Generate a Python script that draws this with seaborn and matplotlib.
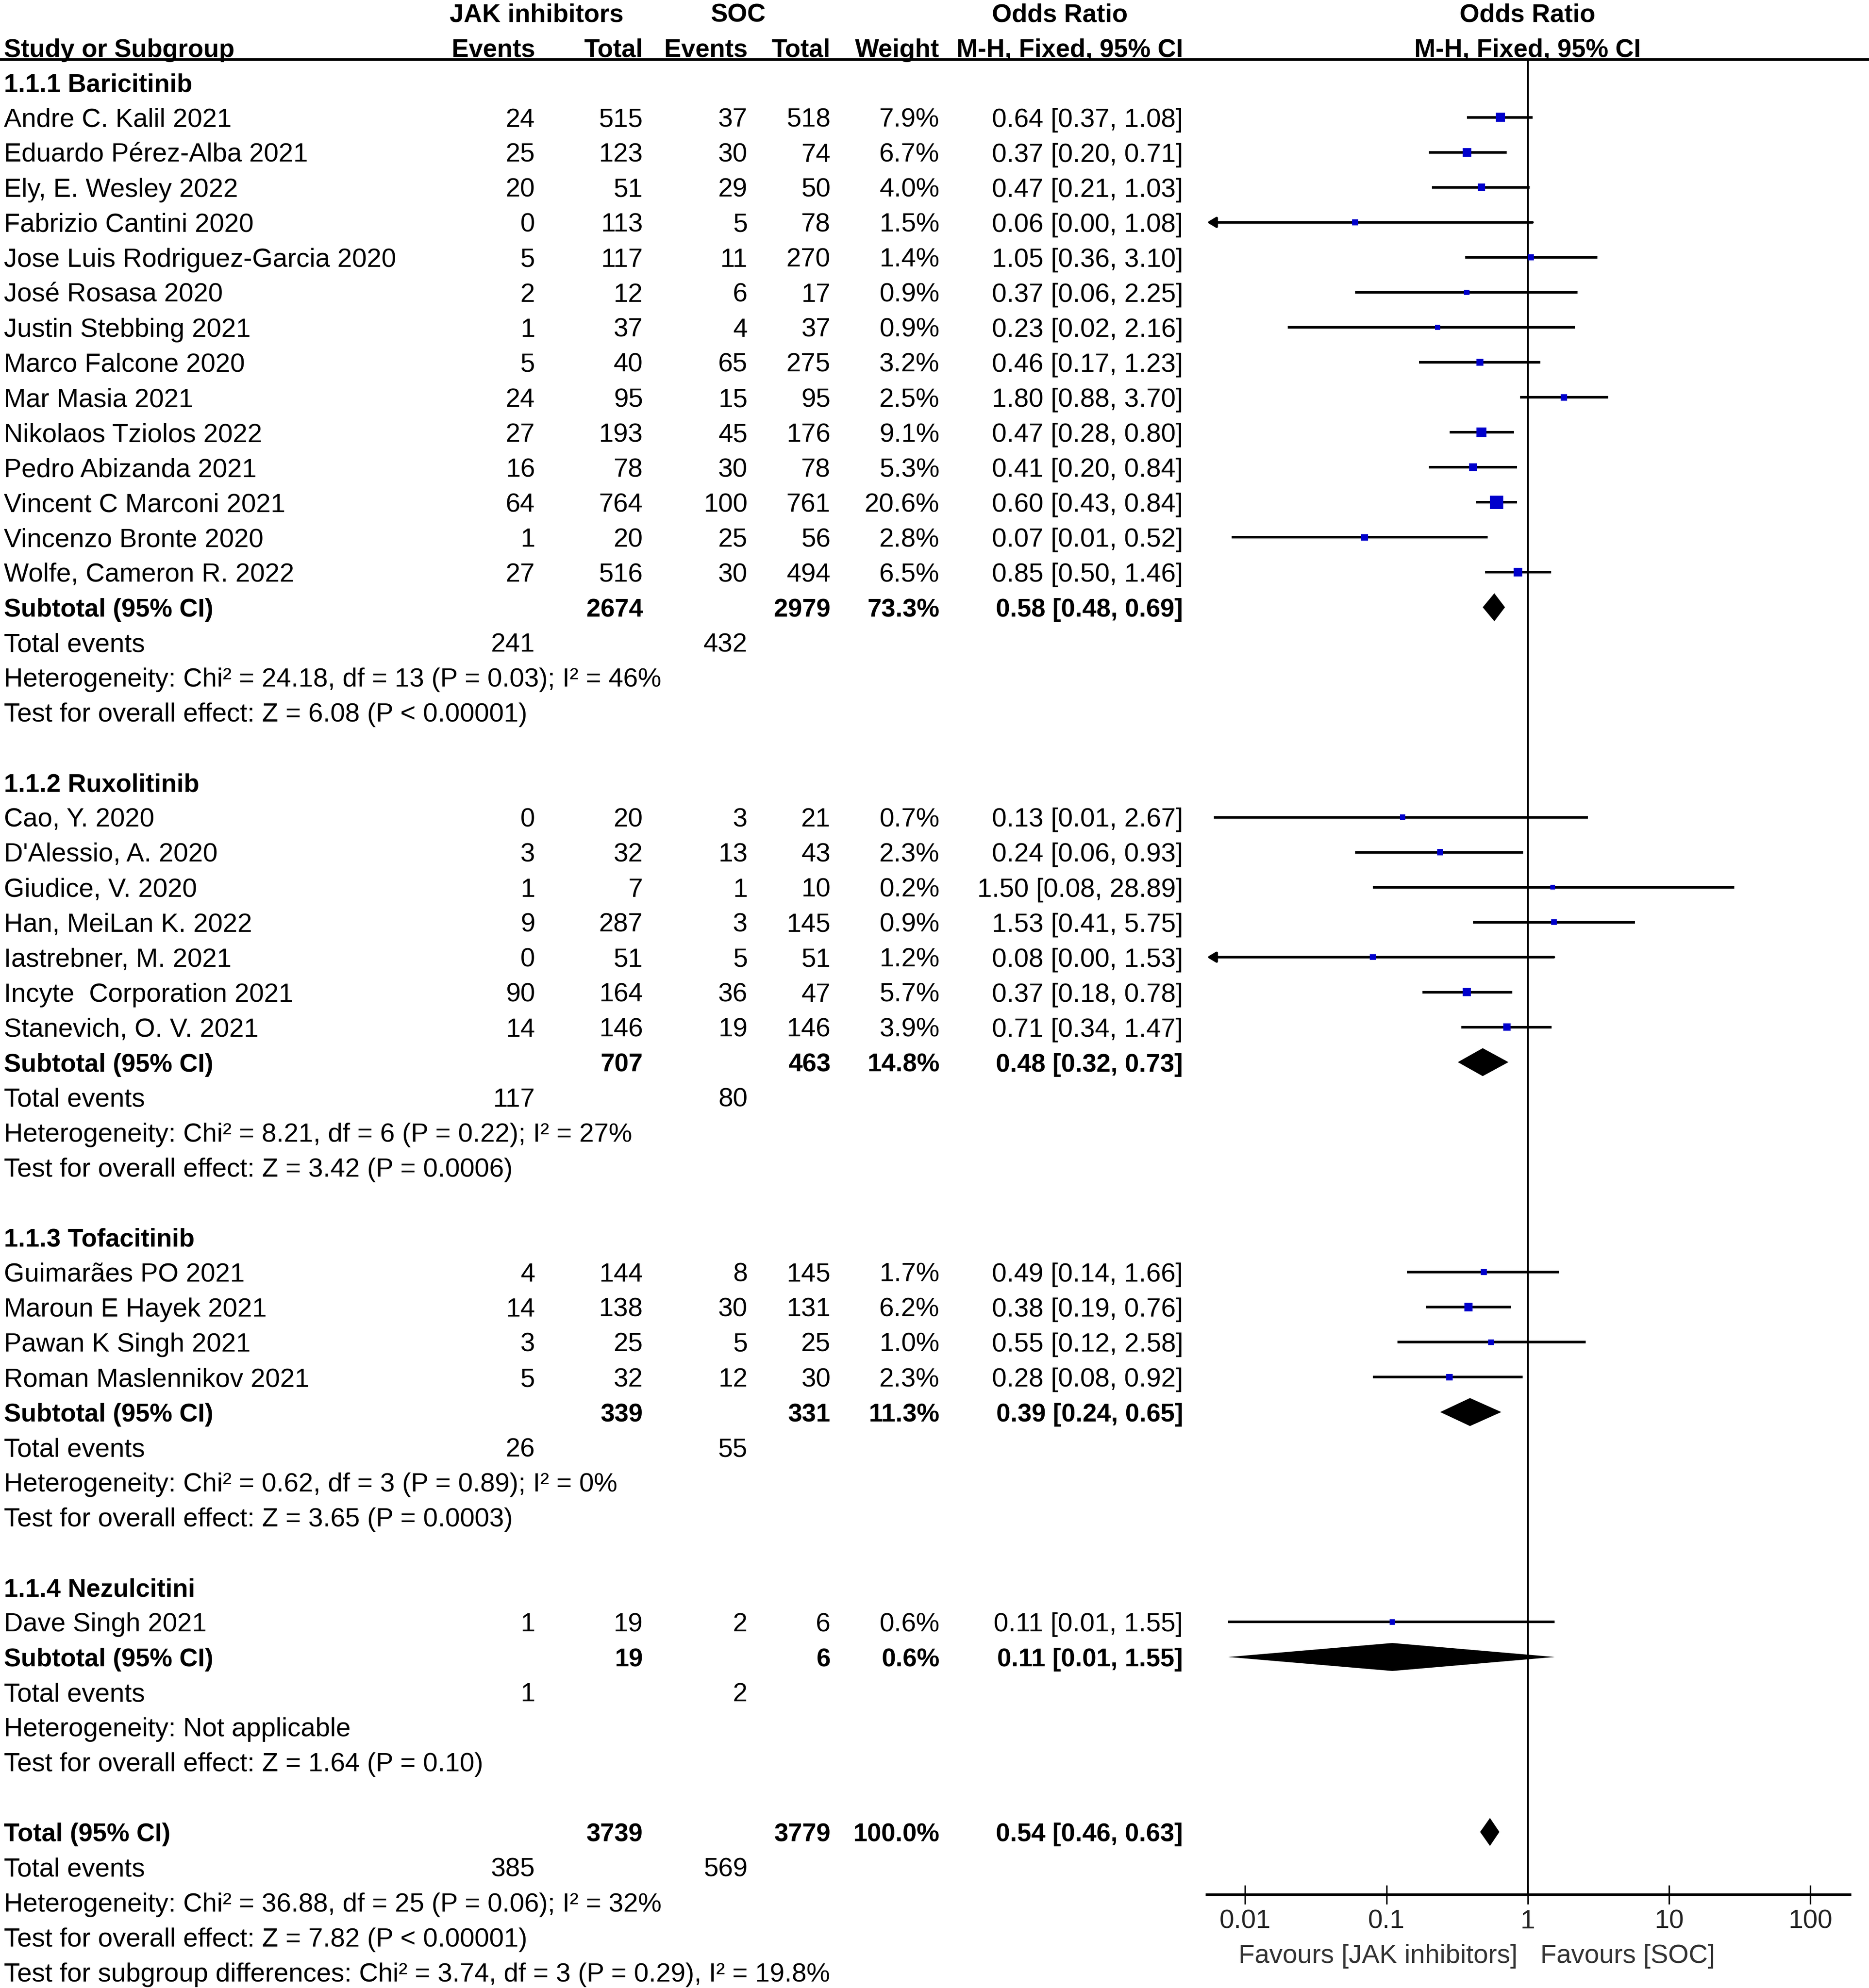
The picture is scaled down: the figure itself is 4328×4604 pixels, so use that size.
import numpy as np
import pandas as pd
import matplotlib
matplotlib.use("Agg")
import matplotlib.pyplot as plt
import seaborn as sns

# ---- data ----
group_names = ["1.1.1 Baricitinib", "1.1.2 Ruxolitinib", "1.1.3 Tofacitinib", "1.1.4 Nezulcitini"]

study_names = [
    "Andre C. Kalil 2021", "Eduardo Pérez-Alba 2021", "Ely, E. Wesley 2022",
    "Fabrizio Cantini 2020", "Jose Luis Rodriguez-Garcia 2020", "José Rosasa 2020",
    "Justin Stebbing 2021", "Marco Falcone 2020", "Mar Masia 2021",
    "Nikolaos Tziolos 2022", "Pedro Abizanda 2021", "Vincent C Marconi 2021",
    "Vincenzo Bronte 2020", "Wolfe, Cameron R. 2022",
    "Cao, Y. 2020", "D'Alessio, A. 2020", "Giudice, V. 2020", "Han, MeiLan K. 2022",
    "Iastrebner, M. 2021", "Incyte  Corporation 2021", "Stanevich, O. V. 2021",
    "Guimarães PO 2021", "Maroun E Hayek 2021", "Pawan K Singh 2021",
    "Roman Maslennikov 2021",
    "Dave Singh 2021",
]
study_group = [0] * 14 + [1] * 7 + [2] * 4 + [3]
jak_events = [24, 25, 20, 0, 5, 2, 1, 5, 24, 27, 16, 64, 1, 27,
              0, 3, 1, 9, 0, 90, 14,
              4, 14, 3, 5,
              1]
jak_total = [515, 123, 51, 113, 117, 12, 37, 40, 95, 193, 78, 764, 20, 516,
             20, 32, 7, 287, 51, 164, 146,
             144, 138, 25, 32,
             19]
soc_events = [37, 30, 29, 5, 11, 6, 4, 65, 15, 45, 30, 100, 25, 30,
              3, 13, 1, 3, 5, 36, 19,
              8, 30, 5, 12,
              2]
soc_total = [518, 74, 50, 78, 270, 17, 37, 275, 95, 176, 78, 761, 56, 494,
             21, 43, 10, 145, 51, 47, 146,
             145, 131, 25, 30,
             6]
weight = [7.9, 6.7, 4.0, 1.5, 1.4, 0.9, 0.9, 3.2, 2.5, 9.1, 5.3, 20.6, 2.8, 6.5,
          0.7, 2.3, 0.2, 0.9, 1.2, 5.7, 3.9,
          1.7, 6.2, 1.0, 2.3,
          0.6]
or_est = [0.64, 0.37, 0.47, 0.06, 1.05, 0.37, 0.23, 0.46, 1.80, 0.47, 0.41, 0.60, 0.07, 0.85,
          0.13, 0.24, 1.50, 1.53, 0.08, 0.37, 0.71,
          0.49, 0.38, 0.55, 0.28,
          0.11]
or_lo = [0.37, 0.20, 0.21, 0.003, 0.36, 0.06, 0.02, 0.17, 0.88, 0.28, 0.20, 0.43, 0.008, 0.50,
         0.006, 0.06, 0.08, 0.41, 0.004, 0.18, 0.34,
         0.14, 0.19, 0.12, 0.08,
         0.0076]
or_hi = [1.08, 0.71, 1.03, 1.08, 3.10, 2.25, 2.16, 1.23, 3.70, 0.80, 0.84, 0.84, 0.52, 1.46,
         2.67, 0.93, 28.89, 5.75, 1.53, 0.78, 1.47,
         1.66, 0.76, 2.58, 0.92,
         1.55]

sub_jak_total = [2674, 707, 339, 19]
sub_soc_total = [2979, 463, 331, 6]
sub_weight = [73.3, 14.8, 11.3, 0.6]
sub_or = [0.58, 0.48, 0.39, 0.11]
sub_lo = [0.48, 0.32, 0.24, 0.0076]
sub_hi = [0.69, 0.73, 0.65, 1.55]
sub_jak_events = [241, 117, 26, 1]
sub_soc_events = [432, 80, 55, 2]
sub_het = ["Heterogeneity: Chi² = 24.18, df = 13 (P = 0.03); I² = 46%",
           "Heterogeneity: Chi² = 8.21, df = 6 (P = 0.22); I² = 27%",
           "Heterogeneity: Chi² = 0.62, df = 3 (P = 0.89); I² = 0%",
           "Heterogeneity: Not applicable"]
sub_test = ["Test for overall effect: Z = 6.08 (P < 0.00001)",
            "Test for overall effect: Z = 3.42 (P = 0.0006)",
            "Test for overall effect: Z = 3.65 (P = 0.0003)",
            "Test for overall effect: Z = 1.64 (P = 0.10)"]

tot_jak_total, tot_soc_total, tot_weight = 3739, 3779, 100.0
tot_or, tot_lo, tot_hi = 0.54, 0.46, 0.63
tot_jak_events, tot_soc_events = 385, 569
tot_lines = ["Heterogeneity: Chi² = 36.88, df = 25 (P = 0.06); I² = 32%",
             "Test for overall effect: Z = 7.82 (P < 0.00001)",
             "Test for subgroup differences: Chi² = 3.74, df = 3 (P = 0.29), I² = 19.8%"]

axis_ticks = [0.01, 0.1, 1, 10, 100]
axis_ticklabels = ["0.01", "0.1", "1", "10", "100"]
favours_left = "Favours [JAK inhibitors]"
favours_right = "Favours [SOC]"

# ---- layout ----
ROW_TOP, ROW_BOT = -2.355, 54.46      # rows visible at figure top / bottom
AXIS_ROW, HEAD_ROW = 51.8, -0.65      # forest x axis / header rule
FS = 44
FS_BOLD = 42.5
COL = dict(name=0.002, jak_e=0.2863, jak_t=0.344, soc_e=0.400, soc_t=0.4444,
           wt=0.5027, ci=0.633)
BLUE = "#0000cc"

sns.set_theme(style="white")
plt.rcParams['font.family'] = ['Liberation Sans', 'DejaVu Sans']

fig = plt.figure(figsize=(43.28, 46.04), dpi=100)
ax_t = fig.add_axes([0, 0, 1, 1])
ax_t.set_xlim(0, 1)
ax_t.set_ylim(ROW_BOT, ROW_TOP)
ax_t.axis("off")


def frac(r):
    return (ROW_BOT - r) / (ROW_BOT - ROW_TOP)


def put(x, row, s, ha="left", bold=False, color="black"):
    ax_t.text(x, row + 0.27, s, ha=ha, va="baseline",
              fontsize=FS_BOLD if bold else FS,
              fontweight="bold" if bold else "normal", color=color)


def ci_text(e, l, h):
    return "%.2f [%.2f, %.2f]" % (e, l, h)


# header (bold, as in RevMan)
put(0.287, -2, "JAK inhibitors", ha="center", bold=True)
put(0.3948, -2, "SOC", ha="center", bold=True)
put(0.567, -2, "Odds Ratio", ha="center", bold=True)
put(0.8172, -2, "Odds Ratio", ha="center", bold=True)
put(COL["name"], -1, "Study or Subgroup", bold=True)
put(COL["jak_e"], -1, "Events", ha="right", bold=True)
put(COL["jak_t"], -1, "Total", ha="right", bold=True)
put(COL["soc_e"], -1, "Events", ha="right", bold=True)
put(COL["soc_t"], -1, "Total", ha="right", bold=True)
put(COL["wt"], -1, "Weight", ha="right", bold=True)
put(COL["ci"], -1, "M-H, Fixed, 95% CI", ha="right", bold=True)
put(0.8172, -1, "M-H, Fixed, 95% CI", ha="center", bold=True)
ax_t.axhline(HEAD_ROW, color="black", lw=4.5)

# table body
study_rows = []
diamonds = []
row = 0
for g, gname in enumerate(group_names):
    put(COL["name"], row, gname, bold=True)
    row += 1
    for i in range(len(study_names)):
        if study_group[i] != g:
            continue
        put(COL["name"], row, study_names[i])
        put(COL["jak_e"], row, str(jak_events[i]), ha="right")
        put(COL["jak_t"], row, str(jak_total[i]), ha="right")
        put(COL["soc_e"], row, str(soc_events[i]), ha="right")
        put(COL["soc_t"], row, str(soc_total[i]), ha="right")
        put(COL["wt"], row, "%.1f%%" % weight[i], ha="right")
        put(COL["ci"], row, ci_text(or_est[i], or_lo[i], or_hi[i]), ha="right")
        study_rows.append(row)
        row += 1
    put(COL["name"], row, "Subtotal (95% CI)", bold=True)
    put(COL["jak_t"], row, str(sub_jak_total[g]), ha="right", bold=True)
    put(COL["soc_t"], row, str(sub_soc_total[g]), ha="right", bold=True)
    put(COL["wt"], row, "%.1f%%" % sub_weight[g], ha="right", bold=True)
    put(COL["ci"], row, ci_text(sub_or[g], sub_lo[g], sub_hi[g]), ha="right", bold=True)
    diamonds.append((row, sub_or[g], sub_lo[g], sub_hi[g]))
    row += 1
    put(COL["name"], row, "Total events")
    put(COL["jak_e"], row, str(sub_jak_events[g]), ha="right")
    put(COL["soc_e"], row, str(sub_soc_events[g]), ha="right")
    row += 1
    put(COL["name"], row, sub_het[g])
    row += 1
    put(COL["name"], row, sub_test[g])
    row += 2

put(COL["name"], row, "Total (95% CI)", bold=True)
put(COL["jak_t"], row, str(tot_jak_total), ha="right", bold=True)
put(COL["soc_t"], row, str(tot_soc_total), ha="right", bold=True)
put(COL["wt"], row, "%.1f%%" % tot_weight, ha="right", bold=True)
put(COL["ci"], row, ci_text(tot_or, tot_lo, tot_hi), ha="right", bold=True)
diamonds.append((row, tot_or, tot_lo, tot_hi))
row += 1
put(COL["name"], row, "Total events")
put(COL["jak_e"], row, str(tot_jak_events), ha="right")
put(COL["soc_e"], row, str(tot_soc_events), ha="right")
row += 1
for line in tot_lines:
    put(COL["name"], row, line)
    row += 1

# ---- forest panel ----
fb, ft = frac(AXIS_ROW), frac(HEAD_ROW)
ax_f = fig.add_axes([0.6458, fb, 0.344, ft - fb])
ax_f.set_facecolor("none")
ax_f.set_xscale("log")
xmin, xmax = 10 ** -2.27, 10 ** 2.28
ax_f.set_xlim(xmin, xmax)
ax_f.set_ylim(AXIS_ROW, HEAD_ROW)

ax_f.axvline(1, color="black", lw=3, zorder=1)

for r, l, h in zip(study_rows, or_lo, or_hi):
    if l < xmin:
        ax_f.annotate("", xy=(xmin, r), xytext=(h, r),
                      arrowprops=dict(arrowstyle="-|>,head_length=1.0,head_width=0.6",
                                      color="black", lw=4.3, shrinkA=0, shrinkB=0))
    else:
        ax_f.hlines(r, l, h, color="black", lw=4.3, zorder=2)

df = pd.DataFrame({"or": or_est, "row": study_rows, "weight": weight})
sns.scatterplot(data=df, x="or", y="row", size="weight", sizes=(70, 500),
                size_norm=(0.2, 20.6), marker="s", color=BLUE, linewidth=0,
                legend=False, ax=ax_f, zorder=3)

for r, e, l, h in diamonds:
    ax_f.fill([l, e, h, e], [r, r - 0.4, r, r + 0.4], color="black", zorder=3, lw=0)

ax_f.set_xlabel("")
ax_f.set_ylabel("")
ax_f.set_yticks([])
ax_f.set_xticks(axis_ticks)
ax_f.set_xticklabels(axis_ticklabels)
ax_f.xaxis.set_minor_locator(matplotlib.ticker.NullLocator())
ax_f.tick_params(axis="x", direction="inout", length=32, width=2.5, pad=8,
                 labelsize=FS, labelcolor="#222222", color="black", bottom=True)
for side in ["top", "left", "right"]:
    ax_f.spines[side].set_visible(False)
ax_f.spines["bottom"].set_linewidth(4.5)
ax_f.spines["bottom"].set_color("black")

fav_row = 53.48
ax_f.annotate(favours_left, xy=(1, fav_row + 0.27), xytext=(-17, 0),
              textcoords="offset points", ha="right", va="baseline",
              fontsize=FS, color="#333333", annotation_clip=False)
ax_f.annotate(favours_right, xy=(1, fav_row + 0.27), xytext=(21, 0),
              textcoords="offset points", ha="left", va="baseline",
              fontsize=FS, color="#333333", annotation_clip=False)

fig.savefig("out.png", dpi=100)
